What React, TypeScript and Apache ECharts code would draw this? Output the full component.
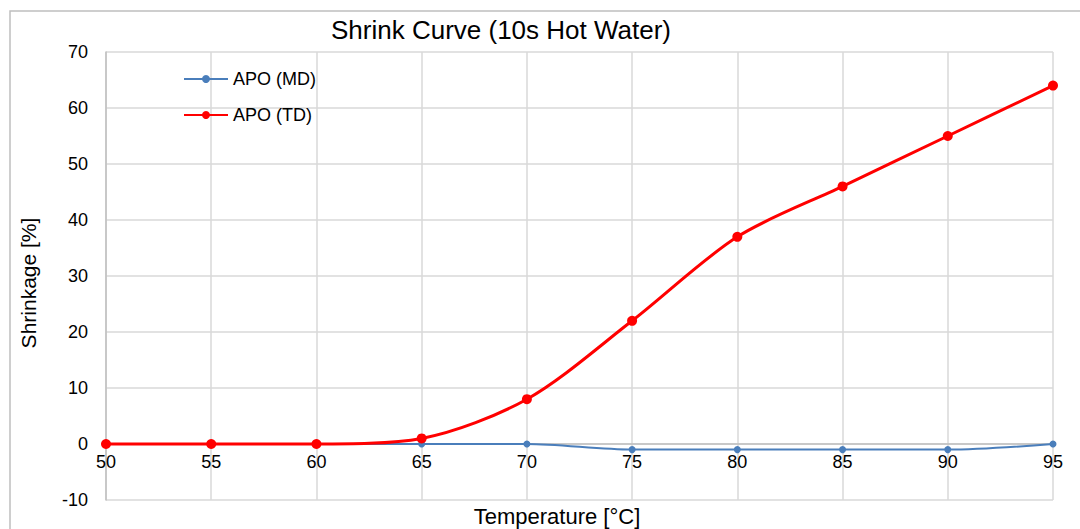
import React, { useEffect, useRef } from "react";
import * as echarts from "echarts";

const temperatures = [50, 55, 60, 65, 70, 75, 80, 85, 90, 95];
const apoMD = [0, 0, 0, 0, 0, -1, -1, -1, -1, 0];
const apoTD = [0, 0, 0, 1, 8, 22, 37, 46, 55, 64];

const FONT = "Liberation Sans, Arial, sans-serif";

export default function App() {
  const ref = useRef<HTMLDivElement>(null);
  useEffect(() => {
    document.body.style.margin = "0";
    const chart = echarts.init(ref.current!, null, { renderer: "svg" });
    chart.setOption({
      animation: false,
      backgroundColor: "#ffffff",
      textStyle: { fontFamily: FONT },
      title: {
        text: "Shrink Curve (10s Hot Water)",
        left: 496,
        top: 12,
        textAlign: "center",
        textStyle: { fontFamily: FONT, fontSize: 26, fontWeight: "normal", color: "#000" },
      },
      graphic: [
        {
          type: "rect",
          shape: { x: 10, y: 11, width: 1090, height: 540 },
          style: { fill: "none", stroke: "#bfbfbf", lineWidth: 1.5 },
          silent: true,
          z: -1,
        },
        {
          type: "text",
          x: 557,
          y: 516,
          style: {
            text: "Temperature [°C]",
            fontFamily: FONT,
            fontSize: 22,
            fill: "#000",
            align: "center",
            verticalAlign: "middle",
          },
        },
        {
          type: "text",
          x: 28,
          y: 283,
          rotation: Math.PI / 2,
          style: {
            text: "Shrinkage [%]",
            fontFamily: FONT,
            fontSize: 21,
            fill: "#000",
            align: "center",
            verticalAlign: "middle",
          },
        },
      ],
      legend: {
        orient: "vertical",
        left: 178,
        top: 65,
        itemWidth: 44,
        itemHeight: 10,
        itemGap: 18,
        textStyle: { fontFamily: FONT, fontSize: 18, color: "#000" },
        data: ["APO (MD)", "APO (TD)"],
      },
      grid: { left: 106, right: 27, top: 52, bottom: 29, containLabel: false },
      xAxis: {
        type: "value",
        min: 50,
        max: 95,
        interval: 5,
        offset: -56,
        axisLine: { onZero: false, lineStyle: { color: "#bfbfbf", width: 1.5 } },
        axisTick: { show: false },
        axisLabel: { fontFamily: FONT, fontSize: 18, color: "#000", margin: 9 },
        splitLine: { show: true, lineStyle: { color: "#d9d9d9", width: 1.5 } },
      },
      yAxis: {
        type: "value",
        min: -10,
        max: 70,
        interval: 10,
        axisLine: { show: true, lineStyle: { color: "#bfbfbf", width: 1.5 } },
        axisTick: { show: false },
        axisLabel: { fontFamily: FONT, fontSize: 18, color: "#000", margin: 18 },
        splitLine: { show: true, lineStyle: { color: "#d9d9d9", width: 1.5 } },
      },
      series: [
        {
          name: "APO (MD)",
          type: "line",
          smooth: 0.3,
          data: temperatures.map((t, i) => [t, apoMD[i]]),
          symbol: "circle",
          symbolSize: 7,
          itemStyle: { color: "#4a7ebb" },
          lineStyle: { color: "#4a7ebb", width: 2 },
          z: 2,
        },
        {
          name: "APO (TD)",
          type: "line",
          smooth: 0.3,
          data: temperatures.map((t, i) => [t, apoTD[i]]),
          symbol: "circle",
          symbolSize: 10,
          itemStyle: { color: "#ff0000" },
          lineStyle: { color: "#ff0000", width: 3 },
          z: 3,
        },
      ],
    });
    return () => chart.dispose();
  }, []);
  return <div ref={ref} style={{ width: 1080, height: 529 }} />;
}
